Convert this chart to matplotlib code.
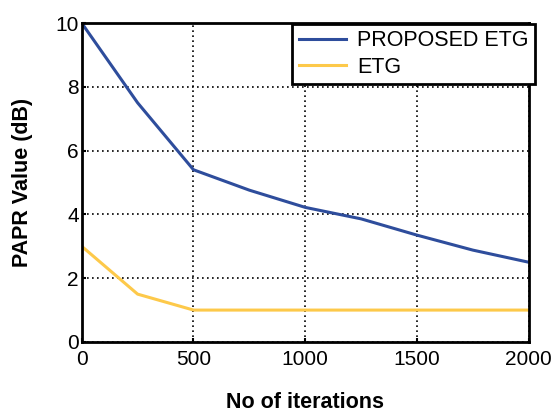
import numpy as np
import matplotlib.pyplot as plt

plt.rcParams['font.family'] = ['Liberation Sans', 'DejaVu Sans']

iterations = [0, 250, 500, 750, 1000, 1250, 1500, 1750, 2000]
papr_proposed = [10.0, 7.5, 5.4, 4.76, 4.22, 3.86, 3.35, 2.88, 2.5]
papr_etg = [3.0, 1.5, 1.0, 1.0, 1.0, 1.0, 1.0, 1.0, 1.0]
xticks = [0, 500, 1000, 1500, 2000]
yticks = [0, 2, 4, 6, 8, 10]

fig = plt.figure(figsize=(5.56, 4.12), dpi=100)
ax = fig.add_axes([0.147, 0.170, 0.804, 0.774])

ax.plot(iterations, papr_proposed, color='#2e4d9c', lw=2.2, label='PROPOSED ETG')
ax.plot(iterations, papr_etg, color='#fdc94a', lw=2.2, label='ETG')

ax.set_xlim(0, 2000)
ax.set_ylim(0, 10)
ax.set_xticks(xticks)
ax.set_yticks(yticks)
ax.tick_params(labelsize=15, direction='in', length=3, width=1.5)
ax.tick_params(axis='x', pad=6)
ax.tick_params(axis='y', pad=2)
ax.grid(True, color='black', linestyle=(0, (1, 2)), linewidth=1.2)
for s in ax.spines.values():
    s.set_linewidth(2)

ax.set_xlabel('No of iterations', fontsize=15.5, fontweight='bold', labelpad=16)
ax.set_ylabel('PAPR Value (dB)', fontsize=15.5, fontweight='bold', labelpad=16)

leg = ax.legend(loc='upper right', bbox_to_anchor=(0.962, 0.942),
                bbox_transform=fig.transFigure, fontsize=15.5, frameon=True,
                fancybox=False, edgecolor='black', framealpha=1,
                handlelength=2.2, borderpad=0.3, labelspacing=0.25,
                handletextpad=0.5, borderaxespad=0)
leg.get_frame().set_linewidth(2)

fig.savefig('out.png', dpi=100)
